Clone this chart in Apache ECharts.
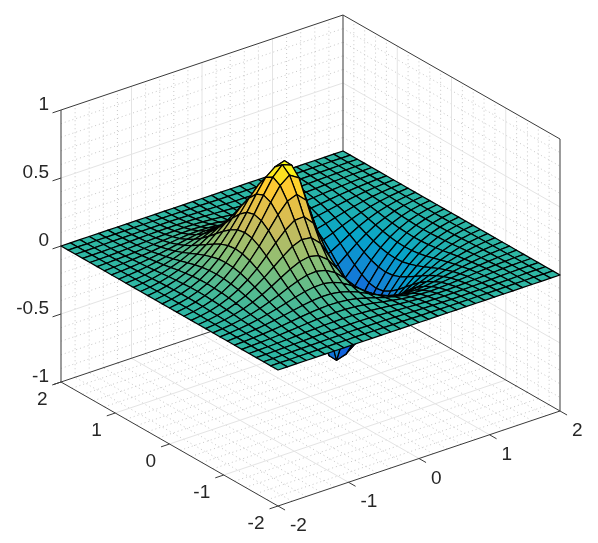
<!DOCTYPE html>
<html>
<head>
<meta charset="utf-8">
<script src="https://cdn.jsdelivr.net/npm/echarts@6/dist/echarts.min.js"></script>
<style>
  html, body { margin: 0; background: #fff; }
  #chart { width: 598px; height: 543px; }
</style>
</head>
<body>
<div id="chart"></div>
<script>
const xTicks = [-2, -1, 0, 1, 2]
const yTicks = [-2, -1, 0, 1, 2]
const zTicks = [-1, -0.5, 0, 0.5, 1]
const zTickLabels = ['-1', '-0.5', '0', '0.5', '1']
const xMinorTicks = [-1.8, -1.6, -1.4, -1.2, -0.8, -0.6, -0.4, -0.2, 0.2, 0.4, 0.6, 0.8, 1.2, 1.4, 1.6, 1.8]
const zMinorTicks = [-0.9, -0.8, -0.7, -0.6, -0.4, -0.3, -0.2, -0.1, 0.1, 0.2, 0.3, 0.4, 0.6, 0.7, 0.8, 0.9]

// heights. rows: |y| from 0 to 2, columns: x from 0 to -2 in 15 steps
// the surface reads as even in y and odd in x, so the other three quarters are mirrored below
const zQuarter = [
  [0, 0.535, 0.747, 0.774, 0.706, 0.597, 0.479, 0.368, 0.272, 0.193, 0.132, 0.085, 0.051, 0.027, 0.011, 0],
  [0, 0.461, 0.685, 0.728, 0.674, 0.574, 0.463, 0.358, 0.265, 0.189, 0.129, 0.083, 0.050, 0.027, 0.011, 0],
  [0, 0.342, 0.550, 0.616, 0.589, 0.513, 0.420, 0.328, 0.245, 0.176, 0.121, 0.079, 0.047, 0.025, 0.010, 0],
  [0, 0.243, 0.411, 0.483, 0.479, 0.430, 0.360, 0.286, 0.216, 0.157, 0.109, 0.071, 0.043, 0.023, 0.009, 0],
  [0, 0.168, 0.294, 0.359, 0.369, 0.341, 0.292, 0.237, 0.182, 0.134, 0.094, 0.063, 0.038, 0.020, 0.008, 0],
  [0, 0.115, 0.205, 0.258, 0.273, 0.259, 0.227, 0.188, 0.147, 0.110, 0.078, 0.052, 0.032, 0.017, 0.007, 0],
  [0, 0.077, 0.140, 0.180, 0.195, 0.190, 0.170, 0.143, 0.114, 0.086, 0.062, 0.042, 0.026, 0.014, 0.006, 0],
  [0, 0.051, 0.094, 0.122, 0.135, 0.134, 0.123, 0.105, 0.085, 0.066, 0.048, 0.033, 0.021, 0.012, 0.005, 0],
  [0, 0.033, 0.061, 0.081, 0.091, 0.092, 0.086, 0.075, 0.062, 0.048, 0.036, 0.025, 0.016, 0.009, 0.004, 0],
  [0, 0.021, 0.039, 0.052, 0.059, 0.061, 0.058, 0.051, 0.043, 0.034, 0.025, 0.018, 0.012, 0.007, 0.003, 0],
  [0, 0.013, 0.024, 0.033, 0.037, 0.039, 0.037, 0.034, 0.029, 0.023, 0.017, 0.012, 0.008, 0.005, 0.002, 0],
  [0, 0.008, 0.014, 0.019, 0.023, 0.024, 0.023, 0.021, 0.018, 0.015, 0.011, 0.008, 0.005, 0.003, 0.001, 0],
  [0, 0.004, 0.008, 0.011, 0.013, 0.013, 0.013, 0.012, 0.011, 0.009, 0.007, 0.005, 0.003, 0.002, 0.001, 0],
  [0, 0.002, 0.004, 0.005, 0.006, 0.007, 0.007, 0.006, 0.006, 0.005, 0.004, 0.003, 0.002, 0.001, 0, 0],
  [0, 0.001, 0.001, 0.002, 0.002, 0.002, 0.003, 0.002, 0.002, 0.002, 0.001, 0.001, 0.001, 0, 0, 0],
  [0, 0, 0, 0, 0, 0, 0, 0, 0, 0, 0, 0, 0, 0, 0, 0],
]
// the two tips lean off the mirror: [ix, iy, z]
const zTips = [[13, 16, 0.75], [17, 14, -0.75]]
const parula = ['#352a87', '#0f5cdd', '#1481d6', '#06a4ca', '#2eb7a4', '#87bf77', '#d1bb59', '#fec832', '#f9fb0e']

const half = zQuarter.length - 1
const step = 2 / half
const zMax = 0.774

const zAt = (ix, iy) => {
  const tip = zTips.find(t => t[0] === ix && t[1] === iy)
  if (tip) return tip[2]
  const v = zQuarter[Math.abs(iy - half)][Math.abs(ix - half)]
  return ix < half ? v : -v
}

// fixed orthographic camera, taken from the corners of the box in the picture
const project = (x, y, z) => [
  310.5 + 70.5 * x - 54.25 * y,
  260.5 - 23.75 * x - 31 * y - 136 * z,
]

const cells = []
for (let ix = 2 * half - 1; ix >= 0; ix--) {
  for (let iy = 2 * half - 1; iy >= 0; iy--) cells.push([ix, iy])
}

const majorLines = []
const minorLines = []
const addWalls = (list, xs, ys, zs) => {
  xs.forEach(x => {
    list.push([x, -2, -1, x, 2, -1])
    list.push([x, 2, -1, x, 2, 1])
  })
  ys.forEach(y => {
    list.push([-2, y, -1, 2, y, -1])
    list.push([2, y, -1, 2, y, 1])
  })
  zs.forEach(z => {
    list.push([-2, 2, z, 2, 2, z])
    list.push([2, 2, z, 2, -2, z])
  })
}
addWalls(minorLines, xMinorTicks, xMinorTicks, zMinorTicks)
addWalls(majorLines, xTicks.slice(1, -1), yTicks.slice(1, -1), zTicks.slice(1, -1))

const boxLines = [
  [-2, 2, 1, 2, 2, 1],
  [2, 2, 1, 2, -2, 1],
  [-2, 2, -1, 2, 2, -1],
  [2, 2, -1, 2, -2, -1],
  [-2, 2, -1, -2, -2, -1],
  [-2, -2, -1, 2, -2, -1],
]
xTicks.forEach(x => boxLines.push([x, -2, -1, x, -2.13, -1]))
yTicks.forEach(y => boxLines.push([-2, y, -1, -2.12, y, -1]))
zTicks.forEach(z => boxLines.push([-2, 2, z, -2.12, 2, z]))

const uprights = [
  [-2, 2, -1, -2, 2, 1],
  [2, 2, -1, 2, 2, 1],
  [2, -2, -1, 2, -2, 1],
]

const tickLabels = []
xTicks.forEach(x => tickLabels.push([x, -2, -1, String(x), 12, 20, 'left']))
yTicks.forEach(y => tickLabels.push([-2, y, -1, String(y), -13.5, 18, 'right']))
zTicks.forEach((z, i) => tickLabels.push([-2, 2, z, zTickLabels[i], -12, -5, 'right']))

const lineSeries = (data, style) => ({
  type: 'custom',
  silent: true,
  animation: false,
  clip: false,
  data,
  renderItem: (params, api) => {
    const a = api.coord(project(api.value(0), api.value(1), api.value(2)))
    const b = api.coord(project(api.value(3), api.value(4), api.value(5)))
    return {
      type: 'line',
      shape: { x1: a[0], y1: a[1], x2: b[0], y2: b[1] },
      style: { fill: null, ...style },
    }
  },
})

const renderCell = (params, api) => {
  const ix = api.value(0)
  const iy = api.value(1)
  const corners = [[ix, iy], [ix + 1, iy], [ix + 1, iy + 1], [ix, iy + 1]]
  const points = corners.map(([a, b]) => api.coord(project((a - half) * step, (b - half) * step, zAt(a, b))))
  const level = Math.min(1, Math.max(0, (zAt(ix, iy) + zMax) / (2 * zMax)))
  return {
    type: 'polygon',
    shape: { points },
    style: {
      fill: echarts.color.lerp(level, parula),
      stroke: '#000000',
      lineWidth: 1.25,
      lineJoin: 'round',
    },
  }
}

const renderLabel = (params, api) => {
  const p = api.coord(project(api.value(0), api.value(1), api.value(2)))
  return {
    type: 'text',
    x: p[0] + api.value(4),
    y: p[1] + api.value(5),
    style: {
      text: tickLabels[params.dataIndex][3],
      fill: '#262626',
      font: '19px "Liberation Sans", Helvetica, Arial, sans-serif',
      align: tickLabels[params.dataIndex][6],
      verticalAlign: 'middle',
    },
  }
}

const chart = echarts.init(document.getElementById('chart'), null, { renderer: 'canvas' })
chart.setOption({
  backgroundColor: '#ffffff',
  animation: false,
  tooltip: { show: false },
  grid: { left: 0, right: 0, top: 0, bottom: 0 },
  xAxis: { type: 'value', min: 0, max: 598, show: false },
  yAxis: { type: 'value', min: 0, max: 543, inverse: true, show: false },
  series: [
    lineSeries(minorLines, { stroke: '#c8c8c8', lineWidth: 1, lineDash: [1, 3] }),
    lineSeries(majorLines, { stroke: '#e4e4e4', lineWidth: 1 }),
    lineSeries(uprights, { stroke: '#666666', lineWidth: 1.3 }),
    lineSeries(boxLines, { stroke: '#3a3a3a', lineWidth: 1 }),
    { type: 'custom', silent: true, animation: false, clip: false, data: cells, renderItem: renderCell },
    {
      type: 'custom',
      silent: true,
      animation: false,
      clip: false,
      data: tickLabels.map(d => [d[0], d[1], d[2], 0, d[4], d[5]]),
      renderItem: renderLabel,
    },
  ],
})
</script>
</body>
</html>
